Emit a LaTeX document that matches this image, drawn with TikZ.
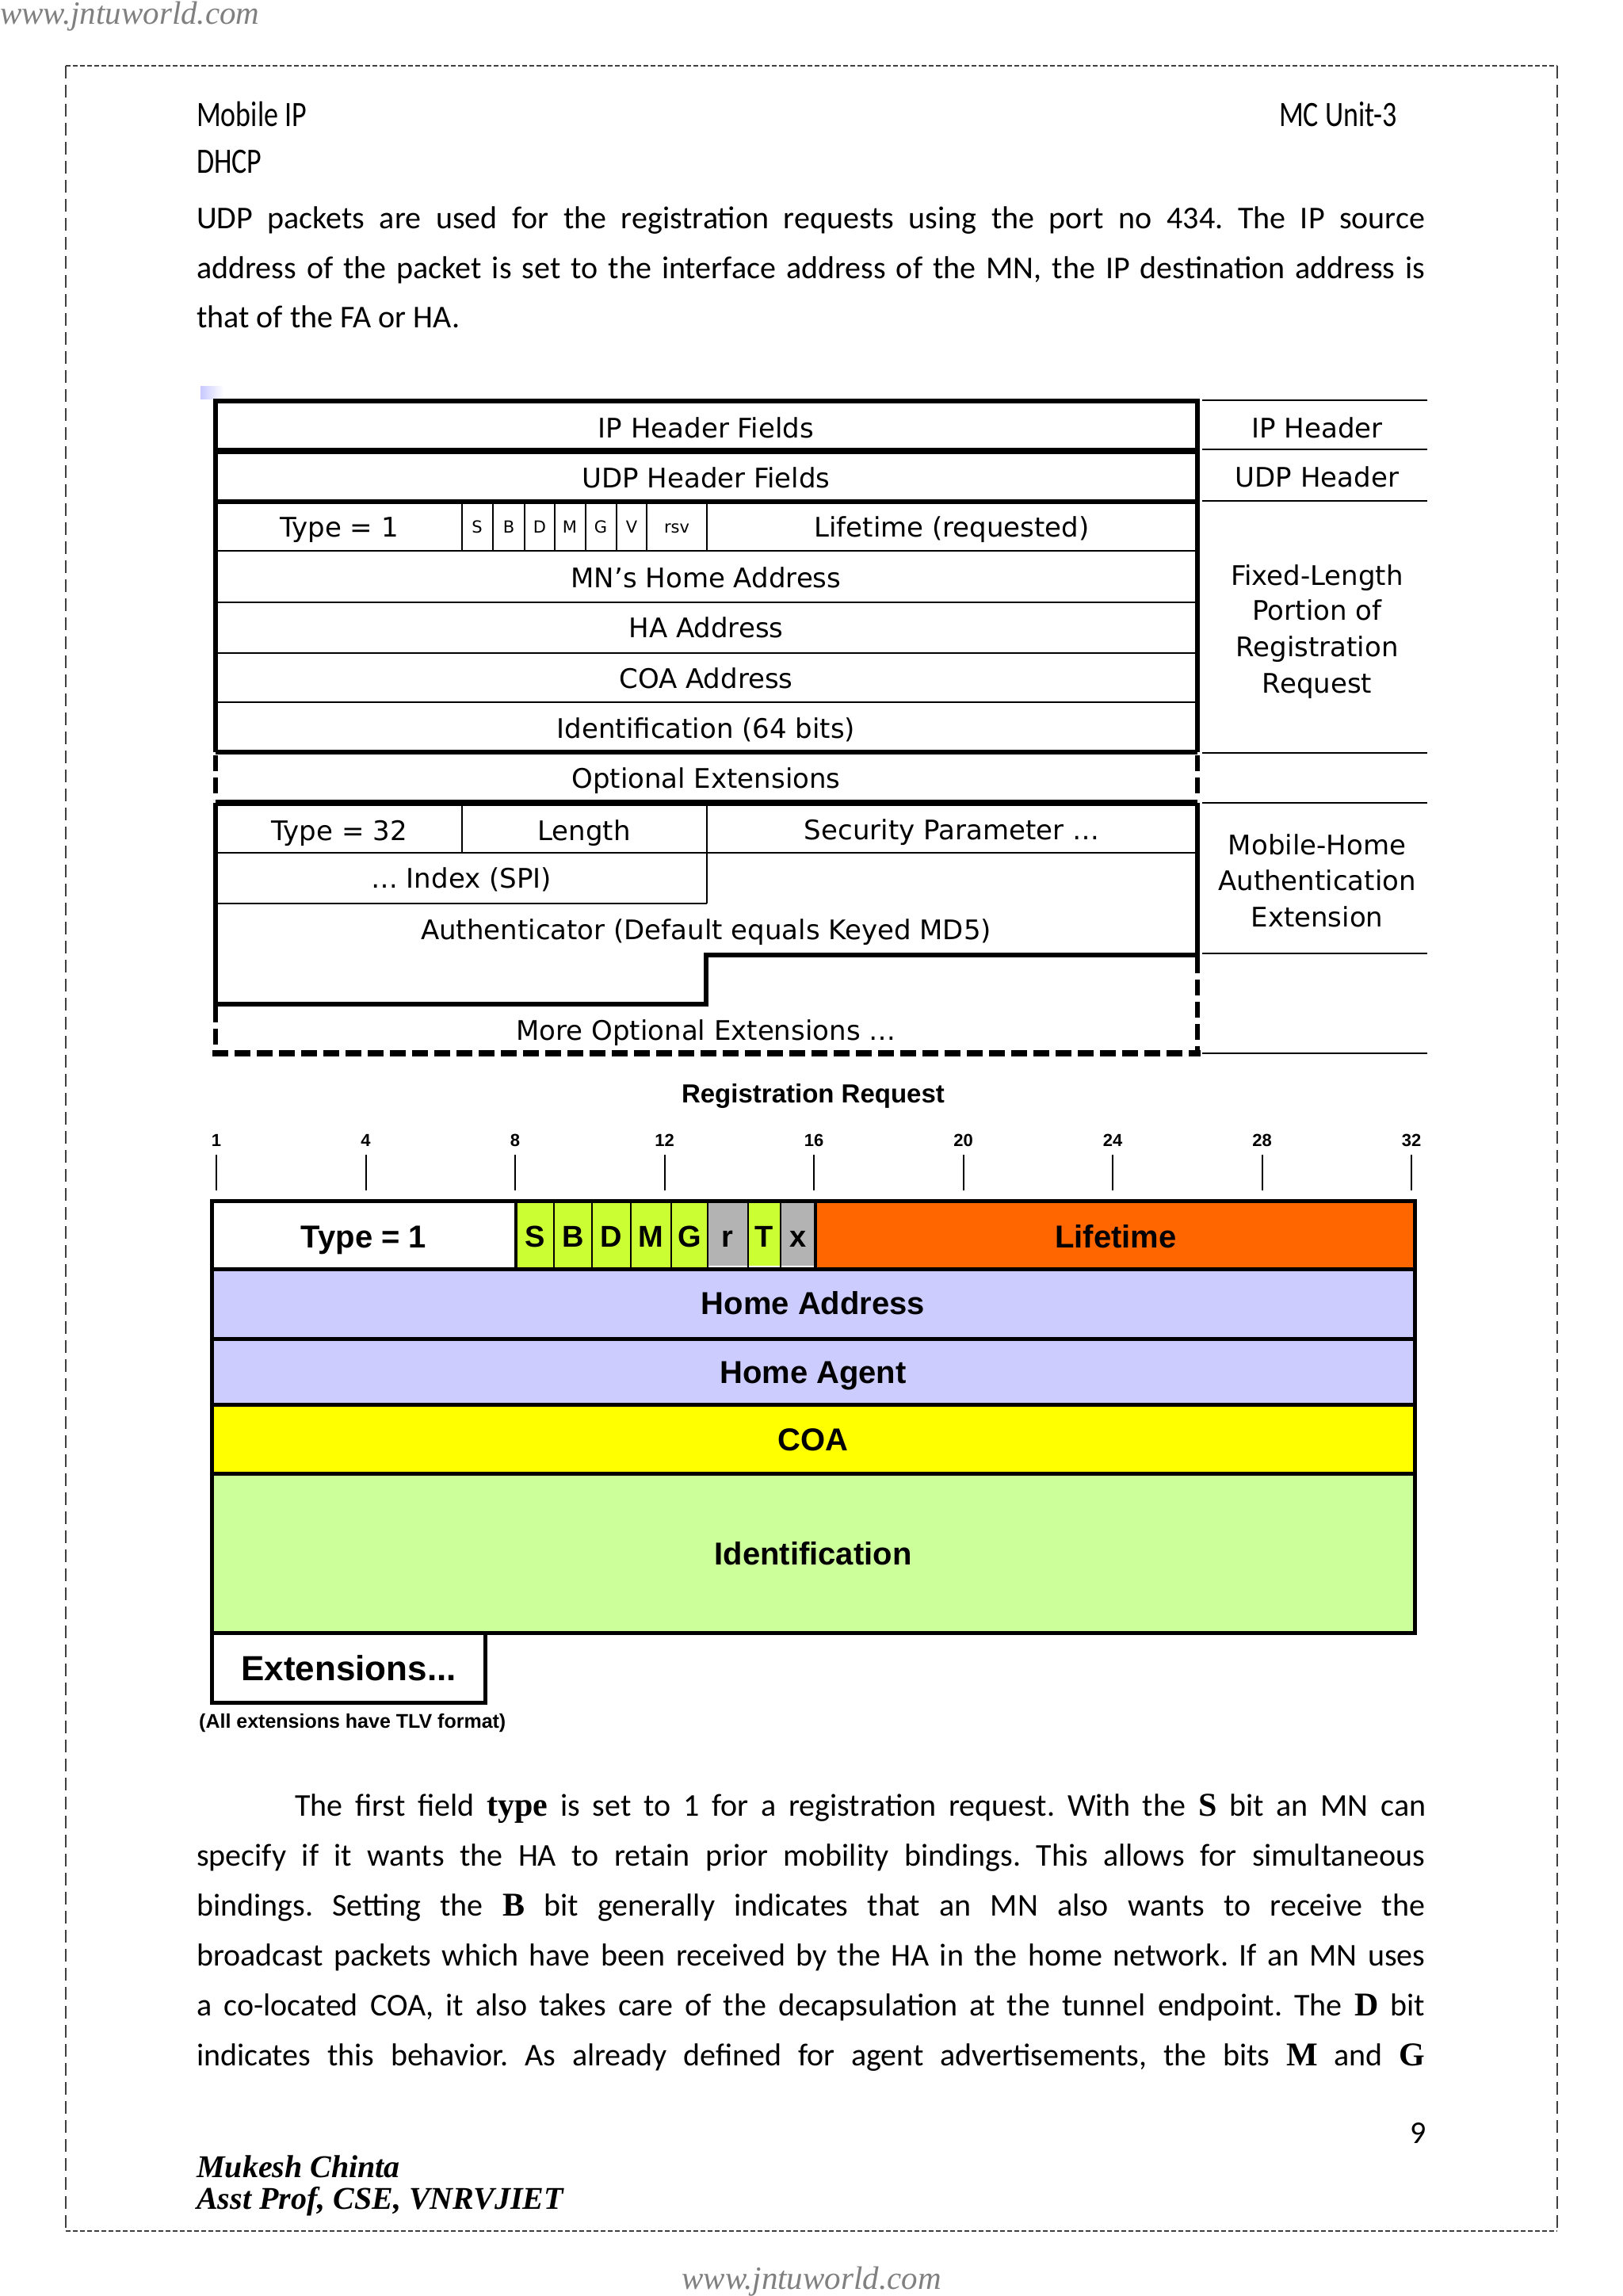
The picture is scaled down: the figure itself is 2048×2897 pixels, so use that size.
\documentclass[tikz,border=0pt]{standalone}
\usepackage{fontspec}
\usepackage{graphicx}
\setmainfont{Carlito}
\newfontfamily\dvfont{DejaVu Sans}
\newfontfamily\arfont{Liberation Sans}
\newfontfamily\tmfont{Liberation Serif}
\definecolor{bitgreen}{HTML}{CCFF33}
\definecolor{bitgray}{HTML}{B3B3B3}
\definecolor{lifeorange}{HTML}{FF6600}
\definecolor{lavend}{HTML}{CCCCFF}
\definecolor{coayellow}{HTML}{FFFF00}
\definecolor{idgreen}{HTML}{CCFF99}
\definecolor{wmgray}{HTML}{808080}
\newcommand\serb[1]{{\tmfont\bfseries\fontsize{42}{48}\selectfont #1}}
\frenchspacing
\tikzset{
  pgborder/.style={line width=1.6pt, black!75, dash pattern=on 6pt off 3pt},
  pgside/.style={line width=1.6pt, black!75, dash pattern=on 16pt off 8pt},
  wm/.style={font=\tmfont\itshape\fontsize{41}{48}\selectfont, text=wmgray, inner sep=0pt},
  hdr/.style={font=\fontsize{36}{44}\selectfont, inner sep=0pt},
  bodyl/.style={font=\fontsize{40}{63}\selectfont\frenchspacing, inner sep=0pt, anchor=base west},
  sig/.style={font=\tmfont\bfseries\itshape\fontsize{40}{48}\selectfont, inner sep=0pt, anchor=base west},
  dv/.style={font=\dvfont\fontsize{34}{40}\selectfont, inner sep=0pt, text height=24.8pt, text depth=0pt},
  dvs/.style={font=\dvfont\fontsize{21}{24}\selectfont, inner sep=0pt, text height=15.3pt, text depth=0pt},
  ab/.style={font=\arfont\bfseries\fontsize{40}{48}\selectfont, inner sep=0pt, text height=28.6pt, text depth=0pt},
  abit/.style={font=\arfont\bfseries\fontsize{38}{44}\selectfont, inner sep=0pt, text height=27.2pt, text depth=0pt},
  abx/.style={font=\arfont\bfseries\fontsize{44}{50}\selectfont, inner sep=0pt, text height=31.5pt, text depth=0pt},
  atitle/.style={font=\arfont\bfseries\fontsize{33}{40}\selectfont, inner sep=0pt, text height=23.6pt, text depth=0pt},
  atick/.style={font=\arfont\bfseries\fontsize{22}{26}\selectfont, inner sep=0pt, text height=15.8pt, text depth=0pt},
  thinl/.style={line width=2.5pt},
  thickl/.style={line width=6.5pt, line join=miter},
  thickdash/.style={line width=6.5pt, dash pattern=on 20pt off 8pt},
  frame/.style={line width=5pt, line join=miter},
}
\begin{document}
\begin{tikzpicture}[x=1pt,y=-1pt]
\useasboundingbox (0,0) rectangle (2048,2897);
\fill[white] (0,0) rectangle (2048,2897);

% page frame
\draw[pgborder] (83,83) -- (1965,83);
\draw[pgborder] (83,2815) -- (1965,2815);
\draw[pgside] (83,83) -- (83,2815);
\draw[pgside] (1965,83) -- (1965,2815);

% watermarks
\node[wm, anchor=base west] (wmtop) at (0,30) {www.jntuworld.com};
\node[wm, anchor=base] (wmbot) at (1024,2888) {www.jntuworld.com};

% header
\node[hdr, anchor=base west] (hmob) at (248,159) {\scalebox{1}[1.25]{Mobile IP}};
\node[hdr, anchor=base east] (hunit) at (1763,159) {\scalebox{1}[1.25]{MC Unit-3}};
\node[hdr, anchor=base west] (hdhcp) at (248,218) {\scalebox{1}[1.25]{DHCP}};

% first paragraph
\node[bodyl] (pa1) at (248,288) {\makebox[1550pt][s]{UDP packets are used for the registration requests using the port no 434. The IP source}};
\node[bodyl] (pa2) at (248,351) {\makebox[1550pt][s]{address of the packet is set to the interface address of the MN, the IP destination address is}};
\node[bodyl] (pa3) at (248,413) {that of the FA or HA.};

% ---------------- top diagram ----------------
\shade[left color=lavend!80!blue!60, right color=white] (253,487) rectangle (282,503);

% right column lines
\foreach \yy in {505,567,632,950,1013,1203,1329}
  \draw[thinl] (1517,\yy) -- (1801,\yy);

% thin internal lines
\foreach \yy in {695,760,824,886}
  \draw[thinl] (272,\yy) -- (1511,\yy);
\foreach \xx in {583,622,662,700,739,778,816,892}
  \draw[thinl] (\xx,632) -- (\xx,695);
\draw[thinl] (272,1076) -- (1511,1076);
\draw[thinl] (583,1013) -- (583,1076);
\draw[thinl] (892,1013) -- (892,1140);
\draw[thinl] (272,1140) -- (892,1140);

% thick lines
\draw[thickl] (272,949) -- (272,506) -- (1511,506) -- (1511,949);
\draw[line width=8pt] (272,569) -- (1511,569);
\draw[thickl] (272,633) -- (1511,633);
\draw[thickl] (272,949) -- (1511,949);
\draw[line width=8pt] (272,1013) -- (1511,1013);
\draw[thickl] (272,1013) -- (272,1267) -- (891,1267) -- (891,1205) -- (1511,1205) -- (1511,1013);
\draw[thickdash] (272,953) -- (272,1009);
\draw[thickdash] (1511,953) -- (1511,1009);
\draw[thickdash] (272,1270) -- (272,1329);
\draw[thickdash] (1511,1208) -- (1511,1329);
\draw[line width=8pt, dash pattern=on 20pt off 8pt] (268,1329) -- (1515,1329);

% top diagram texts
\node[dv] (tip) at (891,540) {IP Header Fields};
\node[dv] (tudp) at (891,603) {UDP Header Fields};
\node[dv] (ttype) at (428,665) {Type = 1};
\node[dvs] (fS) at (602,665) {S};
\node[dvs] (fB) at (642,665) {B};
\node[dvs] (fD) at (681,665) {D};
\node[dvs] (fM) at (719,665) {M};
\node[dvs] (fG) at (758,665) {G};
\node[dvs] (fV) at (797,665) {V};
\node[dvs] (frsv) at (854,665) {rsv};
\node[dv] (tlife) at (1201,665) {Lifetime (requested)};
\node[dv] (tmn) at (891,729) {MN’s Home Address};
\node[dv] (tha) at (891,792) {HA Address};
\node[dv] (tcoa) at (891,856) {COA Address};
\node[dv] (tid) at (891,919) {Identification (64 bits)};
\node[dv] (topt) at (891,982) {Optional Extensions};
\node[dv] (tt32) at (428,1048) {Type = 32};
\node[dv] (tlen) at (737,1048) {Length};
\node[dv] (tsec) at (1201,1047) {Security Parameter …};
\node[dv] (tidx) at (582,1108) {… Index (SPI)};
\node[dv] (tauth) at (891,1173) {Authenticator (Default equals Keyed MD5)};
\node[dv] (tmore) at (891,1300) {More Optional Extensions …};
% right labels
\node[dv] (rip) at (1662,540) {IP Header};
\node[dv] (rudp) at (1662,602) {UDP Header};
\node[dv] (rfix1) at (1662,726) {Fixed-Length};
\node[dv] (rfix2) at (1662,770) {Portion of};
\node[dv] (rfix3) at (1662,816) {Registration};
\node[dv] (rfix4) at (1662,862) {Request};
\node[dv] (rmh1) at (1662,1066) {Mobile-Home};
\node[dv] (rmh2) at (1662,1111) {Authentication};
\node[dv] (rmh3) at (1662,1157) {Extension};

% ---------------- bottom diagram ----------------
\node[atitle] (regtitle) at (1026,1380) {Registration Request};
\foreach \k/\lab in {0/1,1/4,2/8,3/12,4/16,5/20,6/24,7/28,8/32} {
  \node[atick] (tick\lab) at ({273+188.5*\k},1439) {\lab};
  \draw[line width=2pt] ({273+188.5*\k},1457) -- ({273+188.5*\k},1502);
}

% fills
\fill[white] (267,1515) rectangle (651,1601);
\fill[bitgreen] (651,1515) rectangle (893,1601);
\fill[bitgray] (893,1515) rectangle (944,1597);
\fill[bitgreen] (944,1515) rectangle (985,1597);
\fill[bitgray] (985,1515) rectangle (1029,1597);
\fill[lifeorange] (1029,1515) rectangle (1785,1601);
\fill[lavend] (267,1601) rectangle (1785,1772);
\fill[coayellow] (267,1772) rectangle (1785,1859);
\fill[idgreen] (267,1859) rectangle (1785,2060);

% cell separators
\foreach \xx in {699,747,796,847,893,944,985}
  \draw[thinl] (\xx,1515) -- (\xx,1601);
\draw[line width=4pt] (651,1515) -- (651,1601);
\draw[line width=4pt] (1029,1515) -- (1029,1601);
% row lines
\foreach \yy in {1601,1689,1772,1859}
  \draw[line width=5pt] (267,\yy) -- (1785,\yy);
\draw[frame] (267,1515) rectangle (1785,2060);
\draw[frame] (267,2060) rectangle (612,2148);

% bottom texts
\node[ab] (btype) at (459,1560) {Type = 1};
\node[abit] (bS) at (675,1560) {S};
\node[abit] (bB) at (723,1560) {B};
\node[abit] (bD) at (771,1560) {D};
\node[abit] (bM) at (821,1560) {M};
\node[abit] (bG) at (870,1560) {G};
\node[abit] (br) at (918,1560) {r};
\node[abit] (bT) at (964,1560) {T};
\node[abit] (bx) at (1007,1560) {x};
\node[ab] (blife) at (1408,1560) {Lifetime};
\node[ab] (bhome) at (1026,1644) {Home Address};
\node[ab] (bagent) at (1026,1731) {Home Agent};
\node[ab] (bcoa) at (1026,1816) {COA};
\node[ab] (bident) at (1026,1960) {Identification};
\node[abx] (bext) at (440,2105) {Extensions...};
\node[font=\arfont\bfseries\fontsize{25}{28}\selectfont, inner sep=0pt, anchor=base west] (btlv) at (251,2180) {(All extensions have TLV format)};

% second paragraph
\node[bodyl] (pb1) at (372,2291) {\makebox[1427pt][s]{The first field \serb{type} is set to 1 for a registration request. With the \serb{S} bit an MN can}};
\node[bodyl] (pb2) at (248,2354) {\makebox[1550pt][s]{specify if it wants the HA to retain prior mobility bindings. This allows for simultaneous}};
\node[bodyl] (pb3) at (248,2417) {\makebox[1550pt][s]{bindings. Setting the \serb{B} bit generally indicates that an MN also wants to receive the}};
\node[bodyl] (pb4) at (248,2480) {\makebox[1550pt][s]{broadcast packets which have been received by the HA in the home network. If an MN uses}};
\node[bodyl] (pb5) at (248,2543) {\makebox[1550pt][s]{a co-located COA, it also takes care of the decapsulation at the tunnel endpoint. The \serb{D} bit}};
\node[bodyl] (pb6) at (248,2606) {\makebox[1550pt][s]{indicates this behavior. As already defined for agent advertisements, the bits \serb{M} and \serb{G}}};

% footer
\node[bodyl, anchor=base east] (pgnum) at (1800,2704) {9};
\node[sig] (sig1) at (248,2747) {Mukesh Chinta};
\node[sig] (sig2) at (248,2787) {Asst Prof, CSE, VNRVJIET};
\end{tikzpicture}
\end{document}
